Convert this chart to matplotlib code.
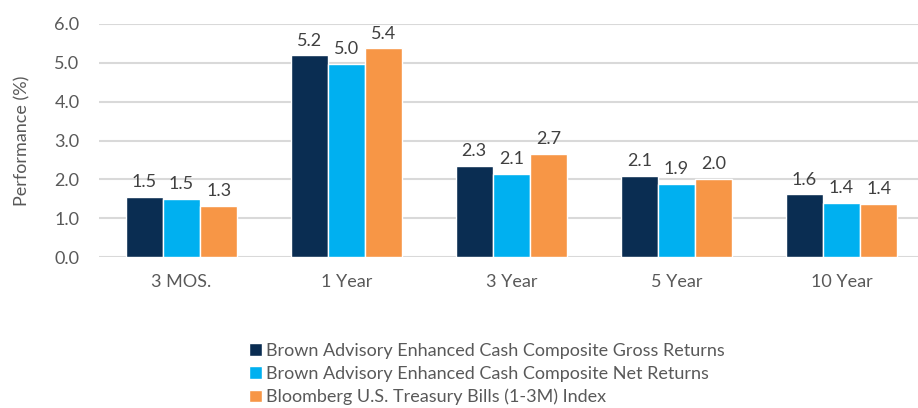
import matplotlib.pyplot as plt
import numpy as np

categories = ['3 MOS.', '1 Year', '3 Year', '5 Year', '10 Year']
series_names = ['Brown Advisory Enhanced Cash Composite Gross Returns',
                'Brown Advisory Enhanced Cash Composite Net Returns',
                'Bloomberg U.S. Treasury Bills (1-3M) Index']
gross = [1.54, 5.19, 2.34, 2.08, 1.61]
net = [1.50, 4.98, 2.13, 1.87, 1.40]
index = [1.31, 5.37, 2.66, 2.02, 1.36]
colors = ['#0a2d52', '#00b0f0', '#f79646']

plt.rcParams['font.family'] = ['Lato', 'DejaVu Sans']
fs = 13

fig = plt.figure(figsize=(9.18, 4.08), dpi=100)
ax = fig.add_axes([99 / 918, 1 - 257 / 408, 819 / 918, 233 / 408])

x = np.arange(len(categories))
w = 0.226
for i, (vals, c, name) in enumerate(zip([gross, net, index], colors, series_names)):
    bars = ax.bar(x + (i - 1) * w, vals, w, color=c, edgecolor='white',
                  linewidth=1, label=name, zorder=3)
    for b, v in zip(bars, vals):
        ax.annotate(f'{v:.1f}', (b.get_x() + b.get_width() / 2, v),
                    xytext=(0, 5), textcoords='offset points',
                    ha='center', va='bottom', fontsize=fs, color='#404040')

ax.set_xlim(-0.5, 4.5 - 6 / 165)
ax.set_ylim(0, 6)
ax.set_yticks(np.arange(0, 6.1, 1))
ax.set_yticklabels([f'{t:.1f}' for t in np.arange(0, 6.1, 1)])
ax.set_xticks(x)
ax.set_xticklabels(categories)
ax.tick_params(axis='both', length=0, labelsize=fs, labelcolor='#595959')
ax.tick_params(axis='x', pad=12)
ax.tick_params(axis='y', pad=14)
ax.grid(axis='y', color='#d9d9d9', linewidth=1.5, zorder=0)
for s in ax.spines.values():
    s.set_visible(False)
ax.set_ylabel('Performance (%)', fontsize=fs, color='#595959', labelpad=17)

fig.legend(loc='upper left', bbox_to_anchor=(240 / 918, 1 - 334 / 408),
           frameon=False, fontsize=fs, handlelength=0.7, handleheight=0.7,
           handletextpad=0.25, labelspacing=0.38, borderpad=0,
           labelcolor='#595959')

fig.savefig('out.png', dpi=100)
